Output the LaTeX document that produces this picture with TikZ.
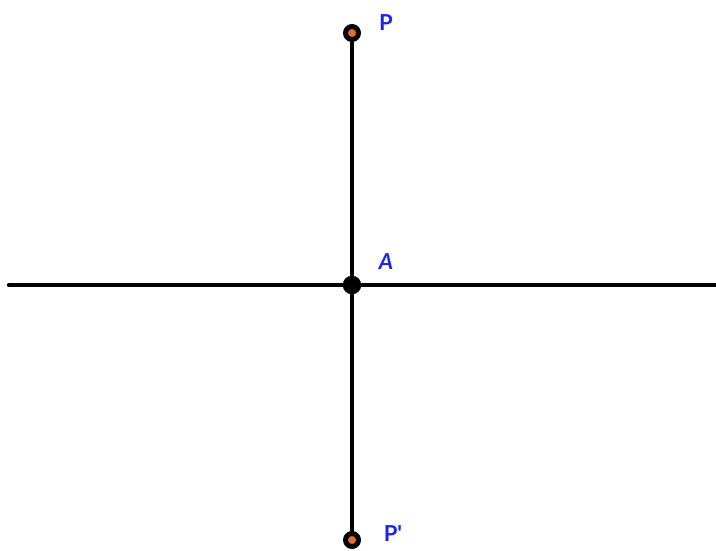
\documentclass[tikz,border=0pt]{standalone}
\usepackage{fontspec}
\setmainfont{Lato}
\usetikzlibrary{positioning}
\definecolor{ptorange}{RGB}{235,110,40}
\definecolor{labelblue}{RGB}{25,35,250}
\tikzset{lbl/.style={text=labelblue,font=\fontsize{22}{22}\selectfont\bfseries,inner sep=0pt}}

\begin{document}
\begin{tikzpicture}[line cap=round,line join=round,x=1pt,y=-1pt]
			\useasboundingbox (0,0) rectangle (716,551);
			% points
			\coordinate (P) at (352,33);
			\coordinate (A) at (352,285);
			\coordinate (Pp) at (352,540);
			\coordinate (gauche) at (9,285);
			\coordinate (droite) at (716,285);
			% droites
			\draw[line width=4.5pt] (gauche)--(droite);
			\draw[line width=4.5pt] (P)--(Pp);
			% etiquettes
			\node[lbl] (labP) at (386,23) {P};
			\node[lbl] (labA) at (386,262) {\itshape A};
			\node[lbl] (labPp) at (393,534) {P\textquotesingle};
			%marquages des sommets
			\filldraw[line width=5pt,fill=ptorange] (P) circle (6.5);
			\filldraw[line width=5pt,fill=ptorange] (Pp) circle (6.5);
			\filldraw (A) circle (9);
	\end{tikzpicture}
\end{document}
